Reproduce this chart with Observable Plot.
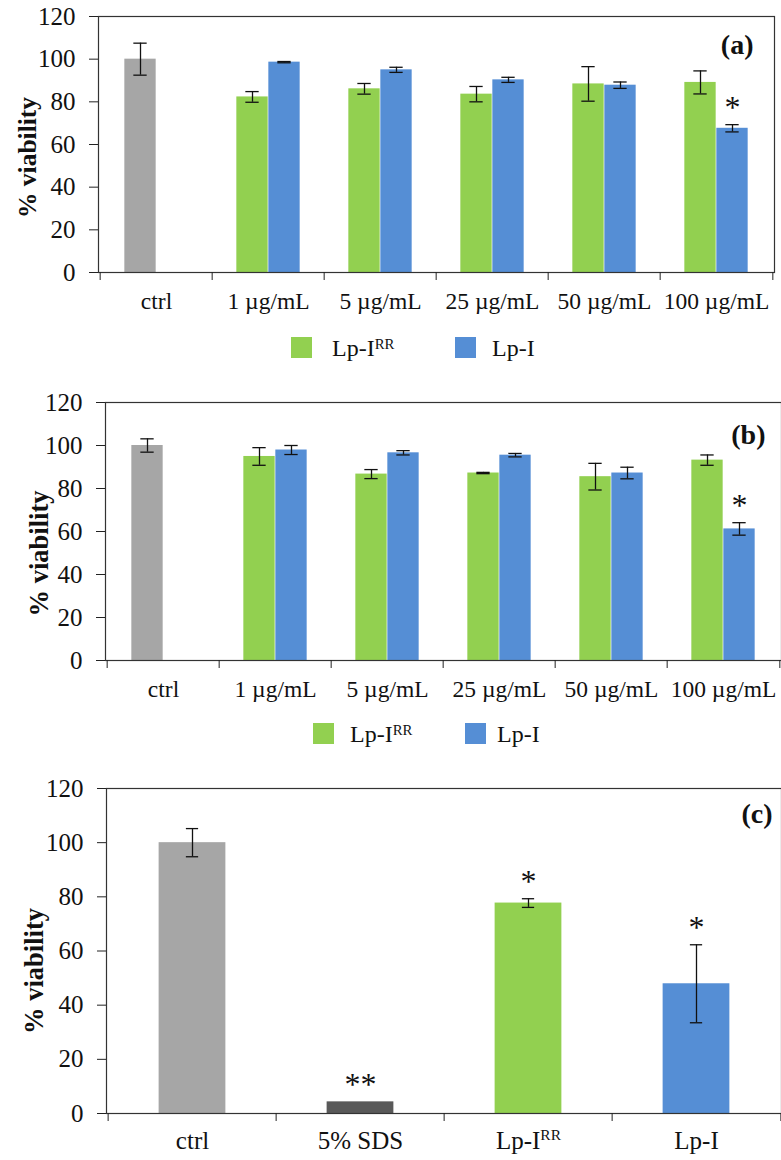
<!DOCTYPE html>
<html><head><meta charset="utf-8">
<script src="https://cdn.jsdelivr.net/npm/d3@7"></script>
<script src="https://cdn.jsdelivr.net/npm/@observablehq/plot@0.6"></script>
<style>
body{margin:0;background:#fff;}
#wrap{position:relative;width:781px;height:1160px;font-family:"Liberation Serif","Times New Roman",serif;overflow:hidden;background:#fff}
.panel{position:absolute;left:0}
.legend{position:absolute;height:22px;font-size:24px;color:#111}
.sw{position:absolute;width:21px;height:21px}
.lt{position:absolute;white-space:nowrap;line-height:22px}
.lt sup{font-size:0.62em;vertical-align:0.5em;line-height:0}
</style></head><body><div id="wrap"></div>
<script>
// ---------- data ----------
const catsAB = ["ctrl", "1 µg/mL", "5 µg/mL", "25 µg/mL", "50 µg/mL", "100 µg/mL"];
const yTicks = [0, 20, 40, 60, 80, 100, 120];

// panel (a)
const aCtrl = [100.0], aCtrlErr = [7.5];
const aRR = [82.3, 86.1, 83.6, 88.4, 89.1];
const aRRErr = [2.5, 2.5, 3.6, 8.1, 5.4];
const aI = [98.6, 95.0, 90.3, 87.8, 67.6];
const aIErr = [0.3, 1.2, 1.2, 1.5, 1.7];
const aSigI = ["", "", "", "", "*"];

// panel (b)
const bCtrl = [100.0], bCtrlErr = [3.1];
const bRR = [94.9, 86.7, 87.2, 85.5, 93.2];
const bRRErr = [4.1, 2.1, 0.3, 6.2, 2.4];
const bI = [97.9, 96.6, 95.5, 87.2, 61.2];
const bIErr = [2.1, 1.0, 0.8, 2.7, 2.9];
const bSigI = ["", "", "", "", "*"];

// panel (c)
const catsC = ["ctrl", "5% SDS", "Lp-I^RR", "Lp-I"];
const cSeries = ["ctrl", "SDS", "RR", "I"];
const cVal = [100.0, 4.3, 77.7, 47.9];
const cErr = [5.2, 0, 1.6, 14.4];
const cSig = ["", "**", "*", "*"];

const colors = {ctrl: "#a6a6a6", SDS: "#595959", RR: "#92d050", I: "#558ed5"};
const FONT = '"Liberation Serif", "Times New Roman", serif';

// ---------- build rows ----------
function rowsAB(ctrl, ctrlErr, rr, rrErr, lpi, lpiErr, sigI) {
  const rows = [{cat: catsAB[0], series: "ctrl", slot: -0.5, value: ctrl[0], err: ctrlErr[0], sig: ""}];
  catsAB.slice(1).forEach((c, i) => {
    rows.push({cat: c, series: "RR", slot: -0.5, value: rr[i], err: rrErr[i], sig: ""});
    rows.push({cat: c, series: "I", slot: 0.5, value: lpi[i], err: lpiErr[i], sig: sigI[i]});
  });
  return rows;
}
const rowsA = rowsAB(aCtrl, aCtrlErr, aRR, aRRErr, aI, aIErr, aSigI);
const rowsB = rowsAB(bCtrl, bCtrlErr, bRR, bRRErr, bI, bIErr, bSigI);
const rowsC = catsC.map((c, i) => ({cat: c, series: cSeries[i], slot: 0, value: cVal[i], err: cErr[i], sig: cSig[i]}));

const W = 781;
const wrap = document.getElementById("wrap");

function drawPanel(o) {
  const step = (W - o.ml - o.mr) / o.cats.length;
  const bw = o.bwFrac * step;
  const cap = o.cap;
  const midX = (o.ml + W - o.mr) / 2;
  const marks = [];
  const slots = [...new Set(o.rows.map(d => d.slot))];
  for (const s of slots) {
    const data = o.rows.filter(d => d.slot === s);
    const withErr = data.filter(d => d.err > 0);
    const inL = step / 2 + s * bw - bw / 2, inR = step / 2 - s * bw - bw / 2;
    const cL = step / 2 + s * bw - cap / 2, cR = step / 2 - s * bw - cap / 2;
    marks.push(Plot.barY(data, {x: "cat", y: "value", fill: d => colors[d.series], insetLeft: inL, insetRight: inR}));
    marks.push(Plot.ruleX(withErr, {x: "cat", y1: d => d.value - d.err, y2: d => d.value + d.err, dx: s * bw, stroke: "#111", strokeWidth: 1.3}));
    for (const e of [-1, 1]) {
      marks.push(Plot.tickY(withErr, {x: "cat", y: d => d.value + e * d.err, insetLeft: cL, insetRight: cR, stroke: "#111", strokeWidth: 1.3}));
    }
    marks.push(Plot.text(data.filter(d => d.sig), {x: "cat", y: d => d.value + d.err, text: "sig", dx: s * bw, dy: o.sigDy, fontSize: o.sigSize, fontFamily: FONT, fill: "#111"}));
  }
  marks.push(Plot.frame({stroke: "#333", strokeWidth: 1.2}));
  marks.push(Plot.axisY({ticks: yTicks, tickSize: 9, tickPadding: 14, fontSize: 25, fontFamily: FONT, label: null, stroke: "#222", fill: "#111"}));
  marks.push(Plot.axisX({tickSize: 0, tickPadding: o.xPad, fontSize: o.xFont, fontFamily: FONT, label: null, fill: "#111"}));
  marks.push(Plot.axisX({tickSize: 8, tickFormat: () => "", dx: -step / 2, label: null, stroke: "#222"}));
  marks.push(Plot.axisX([o.cats[o.cats.length - 1]], {tickSize: 8, tickFormat: () => "", dx: step / 2, label: null, stroke: "#222"}));
  marks.push(Plot.text(["% viability"], {text: d => d, frameAnchor: "middle", rotate: -90, dx: o.labX - midX, dy: o.labDy, fontSize: o.labSize, fontWeight: "bold", fontFamily: FONT, fill: "#111"}));
  marks.push(Plot.text([o.tag], {text: d => d, frameAnchor: "top-right", textAnchor: "end", lineAnchor: "middle", dx: o.tagDx, dy: o.tagDy, fontSize: 28, fontWeight: "bold", fontFamily: FONT, fill: "#111"}));

  const svg = Plot.plot({
    width: W, height: o.height,
    marginTop: o.mt, marginBottom: o.mb, marginLeft: o.ml, marginRight: o.mr,
    style: {fontFamily: FONT, background: "transparent", overflow: "visible", textAnchor: "middle"},
    x: {domain: o.cats, padding: 0, axis: null},
    y: {domain: [0, 120], axis: null},
    marks
  });
  const ns = "http://www.w3.org/2000/svg";
  svg.querySelectorAll("text").forEach(t => {
    // centre the rotated axis title
    if (t.textContent === "% viability") t.setAttribute("text-anchor", "middle");
    // superscript for Lp-I^RR tick labels
    if (t.textContent.includes("^")) {
      const [base, sup] = t.textContent.split("^");
      t.textContent = "";
      const a = document.createElementNS(ns, "tspan"); a.textContent = base; t.appendChild(a);
      const b = document.createElementNS(ns, "tspan"); b.textContent = sup;
      b.setAttribute("font-size", (o.xFont * 0.62) + "px"); b.setAttribute("dy", (-o.xFont * 0.38) + "px");
      t.appendChild(b);
    }
  });
  svg.classList.add("panel");
  svg.style.top = o.top + "px";
  svg.style.position = "absolute";
  wrap.appendChild(svg);
}

drawPanel({rows: rowsA, cats: catsAB, top: 0, height: 320, mt: 16, mb: 48, ml: 98, mr: 7,
  bwFrac: 0.284, cap: 14, sigDy: -17, sigSize: 32, xPad: 20, xFont: 23.5,
  labX: 27, labDy: 13, labSize: 25.5, tag: "(a)", tagDx: -21, tagDy: 29});
drawPanel({rows: rowsB, cats: catsAB, top: 370, height: 338, mt: 32, mb: 48, ml: 105, mr: 0,
  bwFrac: 0.284, cap: 14, sigDy: -17, sigSize: 32, xPad: 20, xFont: 23.5,
  labX: 39, labDy: 22, labSize: 26.5, tag: "(b)", tagDx: -16, tagDy: 33});
drawPanel({rows: rowsC, cats: catsC, top: 760, height: 400, mt: 28, mb: 47, ml: 106, mr: 0,
  bwFrac: 0.40, cap: 13, sigDy: -17, sigSize: 32, xPad: 18, xFont: 25,
  labX: 34, labDy: 20, labSize: 26.5, tag: "(c)", tagDx: -9, tagDy: 26});

// ---------- legends ----------
function legend(top, items) {
  const lg = document.createElement("div");
  lg.className = "legend";
  lg.style.top = top + "px"; lg.style.left = "0px";
  for (const it of items) {
    const sw = document.createElement("span");
    sw.className = "sw"; sw.style.left = it.sx + "px"; sw.style.background = colors[it.series];
    const t = document.createElement("span");
    t.className = "lt"; t.style.left = it.tx + "px"; t.innerHTML = it.html;
    lg.appendChild(sw); lg.appendChild(t);
  }
  wrap.appendChild(lg);
}
legend(337, [{series: "RR", sx: 291, tx: 332, html: "Lp-I<sup>RR</sup>"}, {series: "I", sx: 455, tx: 492, html: "Lp-I"}]);
legend(723, [{series: "RR", sx: 313, tx: 350, html: "Lp-I<sup>RR</sup>"}, {series: "I", sx: 465, tx: 497, html: "Lp-I"}]);
</script></body></html>
